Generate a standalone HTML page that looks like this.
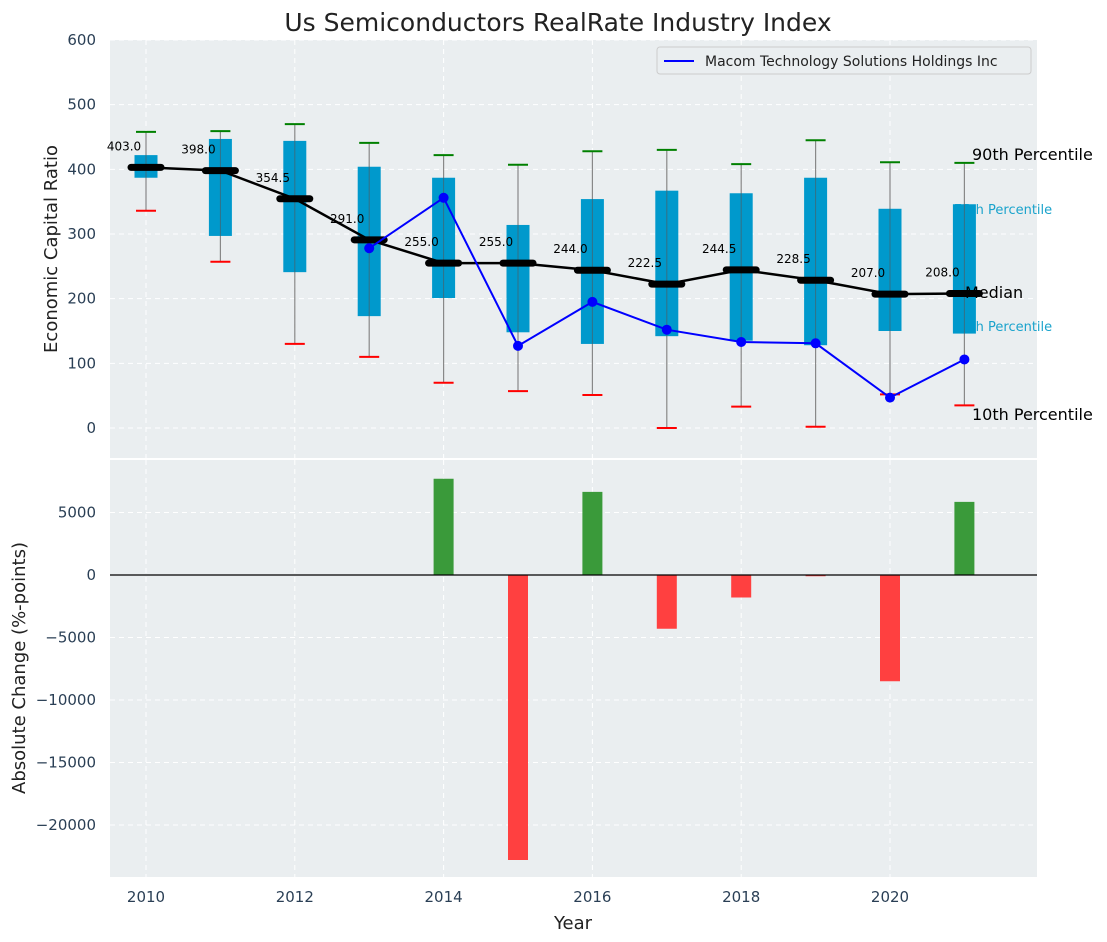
<!DOCTYPE html>
<html><head><meta charset="utf-8"><style>
html,body{margin:0;padding:0;background:#fff;}
svg{display:block;font-family:"DejaVu Sans","Liberation Sans",sans-serif;}
</style></head><body>
<svg id="chart" width="1107" height="942" viewBox="0 0 1107 942" xmlns="http://www.w3.org/2000/svg">
<text x="558" y="31" text-anchor="middle" font-size="25" fill="#222">Us Semiconductors RealRate Industry Index</text>
<rect x="110" y="40" width="927" height="418" fill="#eaeef0"/>
<rect x="110" y="460" width="927" height="417" fill="#eaeef0"/>
<g id="topg"></g><g id="botg"></g>
<text x="57" y="249" transform="rotate(-90 57 249)" text-anchor="middle" font-size="18" fill="#222">Economic Capital Ratio</text>
<text x="25" y="668" transform="rotate(-90 25 668)" text-anchor="middle" font-size="18" fill="#222">Absolute Change (%-points)</text>
<text x="573" y="929" text-anchor="middle" font-size="18" fill="#222">Year</text>
<g>
<rect x="657" y="47" width="374" height="27" rx="3" fill="#eaeef0" stroke="#ccc"/>
<line x1="664" y1="61" x2="694" y2="61" stroke="#0000ff" stroke-width="2"/>
<text x="705" y="66" font-size="14" fill="#222">Macom Technology Solutions Holdings Inc</text>
</g>
</svg>
<script>
const years=[2010,2011,2012,2013,2014,2015,2016,2017,2018,2019,2020,2021];
const p90=[458,459,470,441,422,407,428,430,408,445,411,410];
const p75=[422,447,444,404,387,314,354,367,363,387,339,346];
const median=[403,398,354.5,291,255,255,244,222.5,244.5,228.5,207,208];
const p25=[387,297,241,173,201,148,130,142,135,128,150,146];
const p10=[336,257,130,110,70,57,51,0,33,2,52,35];
const macomYears=[2013,2014,2015,2016,2017,2018,2019,2020,2021];
const macom=[278,356,127,195,152,133,131,47,106];
const changeYears=[2014,2015,2016,2017,2018,2019,2020,2021];
const changes=[7700,-22800,6650,-4300,-1800,-100,-8500,5850];
const yTicksTop=[0,100,200,300,400,500,600];
const yTicksBottom=[-20000,-15000,-10000,-5000,0,5000];
const xTicks=[2010,2012,2014,2016,2018,2020];

const NS="http://www.w3.org/2000/svg";
const X=v=>146+(v-2010)*74.4;
const YT=v=>428-v*388/600;
const YB=v=>575-v*0.0125;
function mk(p,t,a){const e=document.createElementNS(NS,t);for(const k in a)e.setAttribute(k,a[k]);p.appendChild(e);return e;}
const tg=document.getElementById('topg'),bg=document.getElementById('botg');
yTicksTop.forEach(v=>{const l=mk(tg,'line',{x1:110,x2:1037,y1:YT(v),y2:YT(v),stroke:'#fff','stroke-dasharray':'5,4','stroke-width':1});

const t=mk(tg,'text',{x:96,y:YT(v)+5,'text-anchor':'end','font-size':15,fill:'#2a3f55'});t.textContent=v;
});
yTicksBottom.forEach(v=>{const l=mk(bg,'line',{x1:110,x2:1037,y1:YB(v),y2:YB(v),stroke:'#fff','stroke-dasharray':'5,4','stroke-width':1});

const t=mk(bg,'text',{x:96,y:YB(v)+5,'text-anchor':'end','font-size':15,fill:'#2a3f55'});t.textContent=v<0?'\u2212'+(-v):v;
});
xTicks.forEach(v=>{[[40,458],[460,877]].forEach(r=>{const l=mk(tg,'line',{x1:X(v),x2:X(v),y1:r[0],y2:r[1],stroke:'#fff','stroke-dasharray':'5,4'});
});
const t=mk(bg,'text',{x:X(v),y:902,'text-anchor':'middle','font-size':15,fill:'#2a3f55'});t.textContent=v;
});
[['90th Percentile',972,160,16,'#000'],['75th Percentile',954,214,13,'#1aa3cc'],['25th Percentile',954,331,13,'#1aa3cc'],['10th Percentile',972,420,16,'#000']].forEach(a=>{
const t=mk(tg,'text',{x:a[1],y:a[2],'font-size':a[3],fill:a[4]});t.textContent=a[0];
});
years.forEach((y,i)=>{const x=X(y);
const w=mk(tg,'line',{x1:x,x2:x,y1:YT(p90[i]),y2:YT(p10[i]),stroke:'#888','stroke-width':1.2});

const b=mk(tg,'rect',{x:x-11.5,y:YT(p75[i]),width:23,height:YT(p25[i])-YT(p75[i]),fill:'#0099cc'});

mk(tg,'line',{x1:x,x2:x,y1:YT(p75[i]),y2:YT(p25[i]),stroke:'#555','stroke-width':1,opacity:0.6});
const g=mk(tg,'line',{x1:x-10,x2:x+10,y1:YT(p90[i]),y2:YT(p90[i]),stroke:'green','stroke-width':2});

const r=mk(tg,'line',{x1:x-10,x2:x+10,y1:YT(p10[i]),y2:YT(p10[i]),stroke:'red','stroke-width':2});
});
const mp=mk(tg,'polyline',{points:years.map((y,i)=>X(y)+','+YT(median[i])).join(' '),fill:'none',stroke:'#000','stroke-width':2.5});

years.forEach((y,i)=>{const x=X(y);
const m=mk(tg,'line',{x1:x-15,x2:x+15,y1:YT(median[i]),y2:YT(median[i]),stroke:'#000','stroke-width':7,'stroke-linecap':'round'});

const t=mk(tg,'text',{x:x-22,y:YT(median[i])-17,'text-anchor':'middle','font-size':12,fill:'#000'});t.textContent=median[i].toFixed(1);
});
const ml=mk(tg,'polyline',{points:macomYears.map((y,i)=>X(y)+','+YT(macom[i])).join(' '),fill:'none',stroke:'#0000ff','stroke-width':2});

macomYears.forEach((y,i)=>{const c=mk(tg,'circle',{cx:X(y),cy:YT(macom[i]),r:5,fill:'#0000ff'});
});
const md=mk(tg,'text',{x:965,y:298,'font-size':16,fill:'#000'});md.textContent='Median';

changeYears.forEach((y,i)=>{const v=changes[i];const y1=YB(Math.max(v,0)),y2=YB(Math.min(v,0));
const b=mk(bg,'rect',{x:X(y)-10,y:y1,width:20,height:Math.max(y2-y1,1),fill:v>=0?'#3a9a3a':'#ff4040'});
});
const z=mk(bg,'line',{x1:110,x2:1037,y1:YB(0),y2:YB(0),stroke:'#000','stroke-width':1.2});

</script>
</body></html>
